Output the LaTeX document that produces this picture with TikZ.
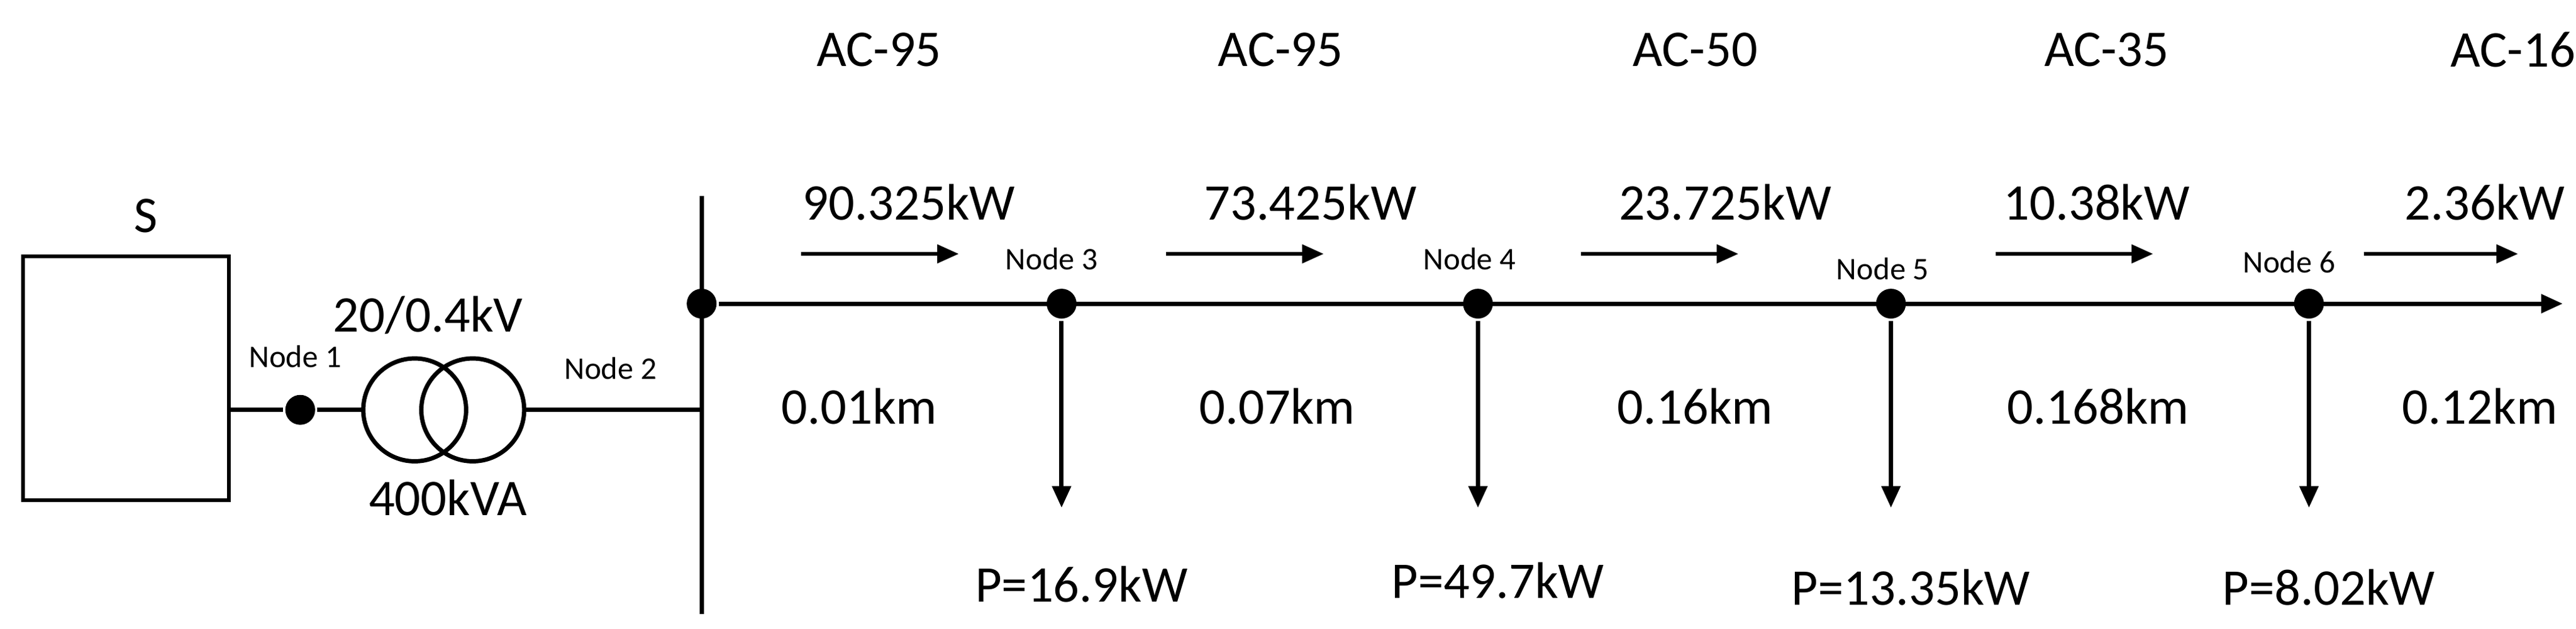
\documentclass[tikz,border=0pt]{standalone}
\usepackage{fontspec}
\setmainfont{Carlito}
\usetikzlibrary{arrows.meta}
\begin{document}
\begin{tikzpicture}[x=1pt,y=-1pt,line width=2.6pt,
  big/.style={font=\fontsize{31}{34}\selectfont,inner sep=0},
  small/.style={font=\fontsize{19}{21}\selectfont,inner sep=0},
  dot/.style={circle,fill=black,inner sep=0,minimum size=18pt},
  arr/.style={-{Triangle[length=13pt,width=11pt]}}]
\useasboundingbox (0,0) rectangle (1553,379);
\node[draw,line width=2.2pt,minimum width=124pt,minimum height=147pt,inner sep=0] (S) at (76,228) {};
\node[big] (Slab) at (88,130) {S};
\node[dot] (n1) at (181,247) {};
\node[small] (n1l) at (178,215) {Node 1};
\node[draw,circle,minimum size=62pt,inner sep=0] (t1) at (250,247) {};
\node[draw,circle,minimum size=62pt,inner sep=0] (t2) at (285,247) {};
\node[big] (tv) at (258,190) {20/0.4kV};
\node[big] (tk) at (270,300) {400kVA};
\coordinate (btop) at (423,118);
\coordinate (bbot) at (423,370);
\coordinate (bmid) at (423,247);
\draw (btop) -- (bbot);
\draw (S.east|-n1) -- (n1) -- (t1.west);
\draw (t2.east) -- (bmid);
\node[dot] (n2) at (423,183) {};
\node[small] (n2l) at (368,222) {Node 2};
\coordinate (end) at (1545,183);
\draw[arr] (n2) -- (end);
\foreach \x/\n/\lx/\ly/\p/\py in {640/3/634/156/16.9/352, 891/4/886/156/49.7/350, 1140/5/1135/162/13.35/354, 1392/6/1380/158/8.02/354}{
  \node[dot] (n\n) at (\x,183) {};
  \node[small,fill=white,inner sep=1pt] (n\n l) at (\lx,\ly) {Node \n};
  \coordinate (d\n) at (\x,306);
  \draw[arr] (n\n) -- (d\n);
  \node[big] (p\n) at (\x+12,\py) {P=\p kW};
}
\foreach \x/\t in {530/AC-95,772/AC-95,1022/AC-50,1270/AC-35,1515/AC-16}{
  \node[big] (ac\x) at (\x,30) {\t};}
\foreach \x/\t in {548/90.325kW,790/73.425kW,1040/23.725kW,1264/10.38kW,1498/2.36kW}{
  \node[big] (pw\x) at (\x,122) {\t};}
\foreach \a/\b in {483/578,703/798,953/1048,1203/1298,1425/1518}{
  \coordinate (sa\a) at (\a,153); \coordinate (sb\a) at (\b,153);
  \draw[arr,line width=2.2pt] (sa\a) -- (sb\a);}
\foreach \x/\t in {518/0.01km,770/0.07km,1022/0.16km,1265/0.168km,1495/0.12km}{
  \node[big] (km\x) at (\x,245) {\t};}
\end{tikzpicture}
\end{document}
